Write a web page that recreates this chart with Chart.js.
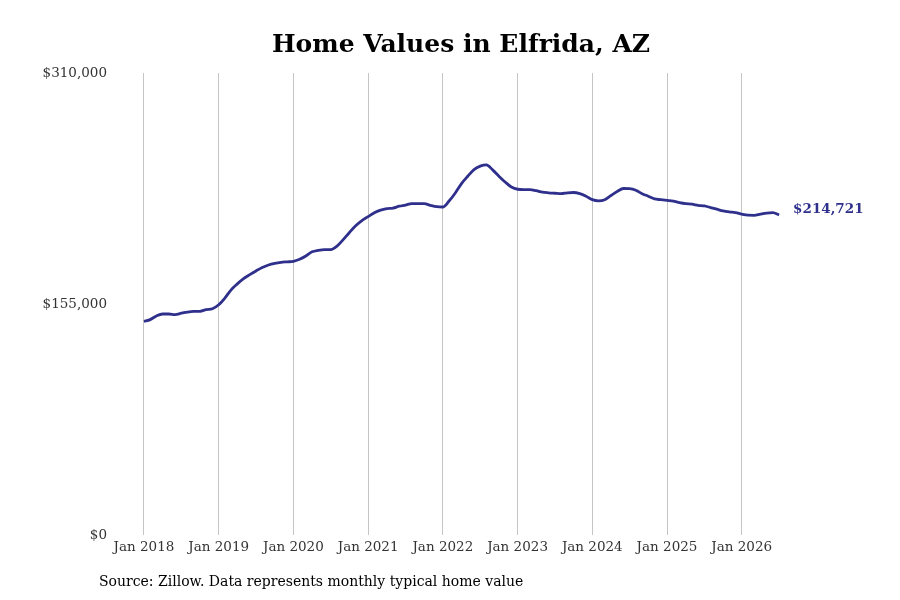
<!DOCTYPE html>
<html>
<head>
<meta charset="utf-8">
<script src="https://cdn.jsdelivr.net/npm/chart.js@4"></script>
<style>
  html, body { margin: 0; padding: 0; background: #fff; }
  #wrap { width: 900px; height: 600px; }
</style>
</head>
<body>
<div id="wrap"><canvas id="chart" width="900" height="600"></canvas></div>
<script>
// monthly typical home value, Jan 2018 .. Jul 2026
const startYear = 2018;
const values = [
  143300, 144500, 147000, 148300, 148300, 147900, 148800, 149600, 150000, 150100, 151200, 151800,
  154500, 159000, 164500, 168500, 172000, 174700, 177200, 179500, 181200, 182300, 183000, 183300,
  183600, 185000, 187200, 190000, 191000, 191500, 191500, 193800, 198200, 203000, 207500, 211000,
  213600, 216300, 218000, 219000, 219400, 220600, 221400, 222400, 222300, 222300, 221200, 220300,
  220100, 224100, 229500, 235800, 240700, 245200, 247500, 248300, 245000, 240800, 236900, 233500,
  232000, 231800, 231800, 231000, 230000, 229600, 229300, 229000, 229600, 229800, 229000, 227300,
  225000, 224200, 225000, 227800, 230500, 232500, 232400, 231300, 229000, 227300, 225500, 225000,
  224500, 224000, 223000, 222300, 222000, 221200, 220800, 219700, 218600, 217500, 216800, 216300,
  215300, 214600, 214500, 215300, 216000, 216300, 214721
];
const yTicks = [0, 155000, 310000];
const xTickMonths = [0, 12, 24, 36, 48, 60, 72, 84, 96];
const titleText = 'Home Values in Elfrida, AZ';
const sourceText = 'Source: Zillow. Data represents monthly typical home value';

const lineColor = '#2f2f8c';
const money = v => '$' + Math.round(v).toLocaleString('en-US');

// title, source note and end-of-line value label
const textPlugin = {
  id: 'textPlugin',
  afterDraw: chart => {
    const { ctx, scales } = chart;
    ctx.save();
    ctx.fillStyle = '#000';
    ctx.textBaseline = 'middle';
    ctx.textAlign = 'center';
    ctx.font = 'bold 25px "DejaVu Serif"';
    ctx.fillText(titleText, 461, 45);
    ctx.textAlign = 'left';
    ctx.font = '14px "DejaVu Serif"';
    ctx.fillText(sourceText, 99, 582);
    const last = values.length - 1;
    const x = scales.x.getPixelForValue(last);
    const y = scales.y.getPixelForValue(values[last]);
    ctx.fillStyle = lineColor;
    ctx.font = 'bold 13.5px "DejaVu Serif"';
    ctx.fillText(money(values[last]), x + 14, y - 5);
    ctx.restore();
  }
};

new Chart(document.getElementById('chart').getContext('2d'), {
  type: 'line',
  data: {
    datasets: [{
      data: values.map((v, i) => ({ x: i, y: v })),
      borderColor: lineColor,
      borderWidth: 2.8,
      pointRadius: 0,
      cubicInterpolationMode: 'monotone',
      fill: false
    }]
  },
  options: {
    responsive: false,
    animation: false,
    devicePixelRatio: 1,
    layout: { padding: { top: 73, right: 96, left: 0, bottom: 0 } },
    plugins: {
      legend: { display: false },
      tooltip: { enabled: false },
      title: { display: false }
    },
    scales: {
      x: {
        type: 'linear',
        min: -4.65,
        max: 106,
        afterBuildTicks: s => { s.ticks = xTickMonths.map(v => ({ value: v })); },
        afterFit: s => { s.height = 65; },
        ticks: {
          callback: v => 'Jan ' + (startYear + v / 12),
          color: '#333',
          font: { family: '"DejaVu Serif"', size: 13.5 },
          padding: 4,
          maxRotation: 0,
          autoSkip: false
        },
        grid: { color: '#c4c4c4', lineWidth: 1, drawTicks: false },
        border: { display: false }
      },
      y: {
        min: 0,
        max: 310000,
        afterBuildTicks: s => { s.ticks = yTicks.map(v => ({ value: v })); },
        afterFit: s => { s.width = 115; },
        ticks: {
          callback: v => money(v),
          color: '#333',
          font: { family: '"DejaVu Serif"', size: 13.5 },
          padding: 8
        },
        grid: { display: false, drawTicks: false },
        border: { display: false }
      }
    }
  },
  plugins: [textPlugin]
});
</script>
</body>
</html>
